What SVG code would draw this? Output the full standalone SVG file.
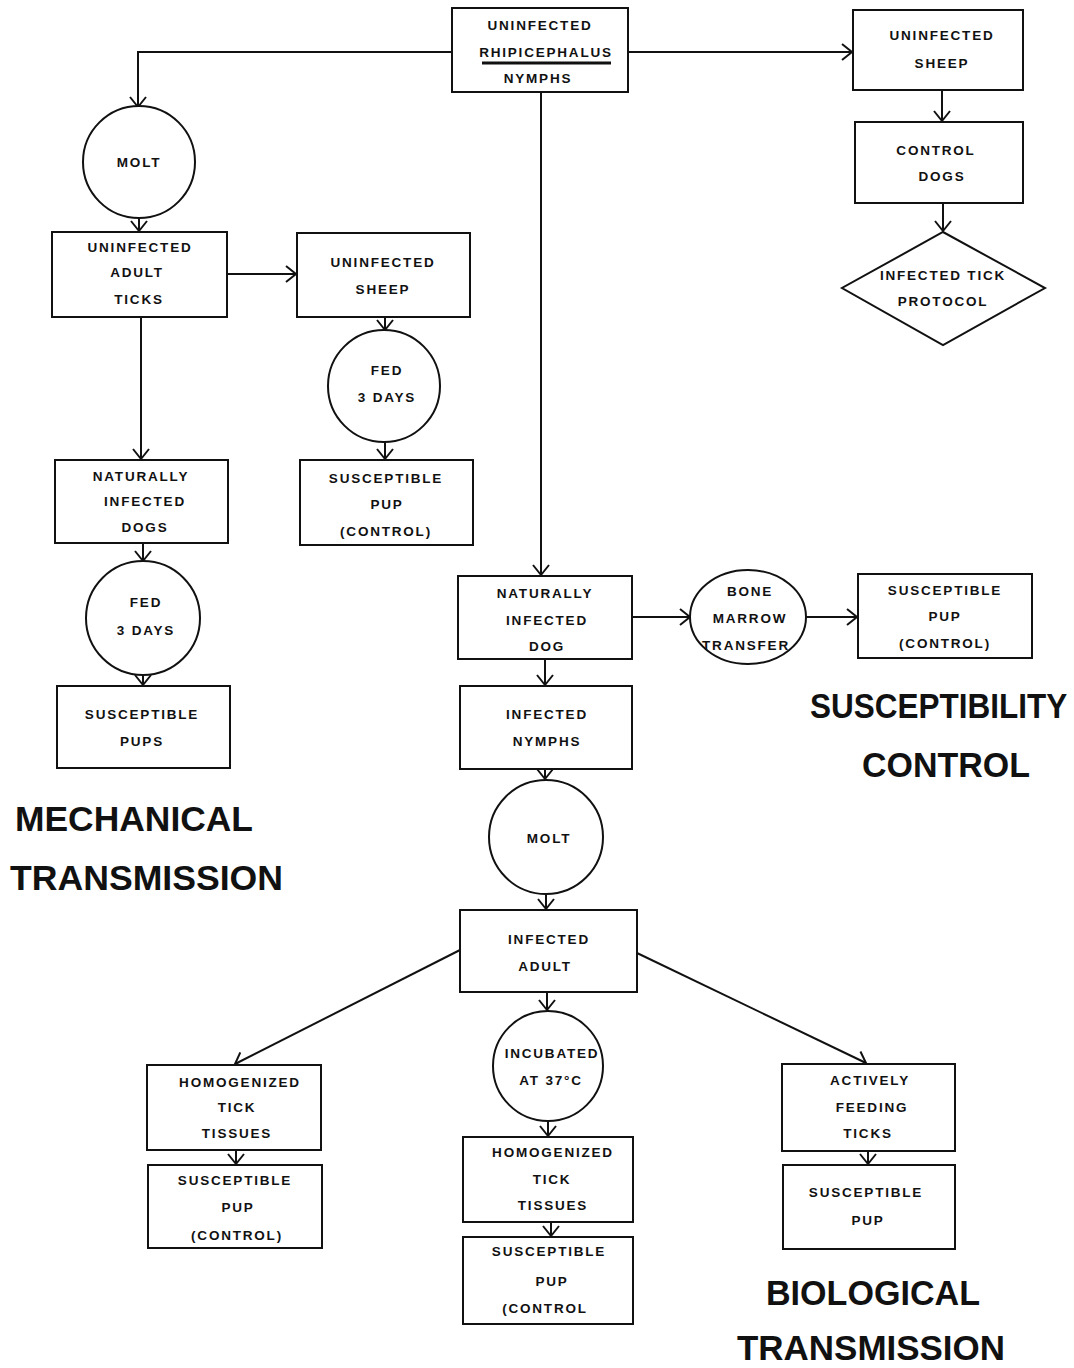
<svg xmlns="http://www.w3.org/2000/svg" width="1074" height="1368" viewBox="0 0 1074 1368">
<style>
.n rect,.n circle,.n ellipse,.n polygon{fill:#fff;stroke:#111;stroke-width:2}
.n text{font-family:"Liberation Sans",Arial,sans-serif;font-weight:bold;font-size:13.5px;letter-spacing:1.8px;text-anchor:middle;fill:#111}
.big{font-family:"Liberation Sans",Arial,sans-serif;font-weight:bold;font-size:35px;fill:#111}
#connectors path{fill:none;stroke:#111;stroke-width:2;marker-end:url(#v)}
</style>
<defs>
<marker id="v" markerUnits="userSpaceOnUse" markerWidth="14" markerHeight="18" refX="11" refY="9" orient="auto">
<path d="M1,1 L11,9 L1,17" fill="none" stroke="#111" stroke-width="2"/>
</marker>
</defs>
<rect width="1074" height="1368" fill="#fff"/>
<g id="connectors">
<path d="M452,52 H138 V107"/>
<path d="M628,52 H852"/>
<path d="M541,92 V575"/>
<path d="M942,90 V121"/>
<path d="M943,203 V231"/>
<path d="M139,218 V231"/>
<path d="M227,274 H296"/>
<path d="M385,317 V330"/>
<path d="M141,317 V459"/>
<path d="M385,442 V459"/>
<path d="M143,543 V561"/>
<path d="M143,675 V685"/>
<path d="M632,617 H690"/>
<path d="M806,617 H857"/>
<path d="M545,659 V685"/>
<path d="M545,769 V779"/>
<path d="M546,895 V909"/>
<path d="M460,950 L235,1064"/>
<path d="M547,992 V1010"/>
<path d="M637,953 L866,1063"/>
<path d="M548,1121 V1136"/>
<path d="M236,1150 V1164"/>
<path d="M551,1222 V1236"/>
<path d="M868,1151 V1164"/>
</g>
<g id="n-top" class="n"><rect x="452" y="8" width="176" height="84"/>
<text x="540" y="30">UNINFECTED</text><text x="546" y="57">RHIPICEPHALUS</text><text x="538" y="83">NYMPHS</text>
<line x1="482" y1="63" x2="611" y2="63" stroke="#111" stroke-width="3"/></g>
<g id="n-sheep-r" class="n"><rect x="853" y="10" width="170" height="80"/>
<text x="942" y="40">UNINFECTED</text><text x="942" y="68">SHEEP</text></g>
<g id="n-control-dogs" class="n"><rect x="855" y="122" width="168" height="81"/>
<text x="936" y="155">CONTROL</text><text x="942" y="181">DOGS</text></g>
<g id="n-protocol" class="n"><polygon points="943,232 1045,288 943,345 842,288"/>
<text x="943" y="280">INFECTED TICK</text><text x="943" y="306">PROTOCOL</text></g>
<g id="n-molt1" class="n"><circle cx="139" cy="162" r="56"/><text x="139" y="167">MOLT</text></g>
<g id="n-adult-ticks" class="n"><rect x="52" y="232" width="175" height="85"/>
<text x="140" y="252">UNINFECTED</text><text x="137" y="277">ADULT</text><text x="139" y="304">TICKS</text></g>
<g id="n-sheep-l" class="n"><rect x="297" y="233" width="173" height="84"/>
<text x="383" y="267">UNINFECTED</text><text x="383" y="294">SHEEP</text></g>
<g id="n-fed1" class="n"><circle cx="384" cy="386" r="56"/><text x="387" y="375">FED</text><text x="387" y="402">3  DAYS</text></g>
<g id="n-pup-ctrl1" class="n"><rect x="300" y="460" width="173" height="85"/>
<text x="386" y="483">SUSCEPTIBLE</text><text x="387" y="509">PUP</text><text x="386" y="536">(CONTROL)</text></g>
<g id="n-nat-dogs" class="n"><rect x="55" y="460" width="173" height="83"/>
<text x="141" y="481">NATURALLY</text><text x="145" y="506">INFECTED</text><text x="145" y="532">DOGS</text></g>
<g id="n-fed2" class="n"><circle cx="143" cy="618" r="57"/><text x="146" y="607">FED</text><text x="146" y="635">3  DAYS</text></g>
<g id="n-pups" class="n"><rect x="57" y="686" width="173" height="82"/>
<text x="142" y="719">SUSCEPTIBLE</text><text x="142" y="746">PUPS</text></g>
<g id="n-nat-dog" class="n"><rect x="458" y="576" width="174" height="83"/>
<text x="545" y="598">NATURALLY</text><text x="547" y="625">INFECTED</text><text x="547" y="651">DOG</text></g>
<g id="n-bone" class="n"><ellipse cx="748" cy="617" rx="58" ry="47"/>
<text x="750" y="596">BONE</text><text x="750" y="623">MARROW</text><text x="746" y="650" font-size="12.5px" letter-spacing="1px">TRANSFER</text></g>
<g id="n-pup-ctrl2" class="n"><rect x="858" y="574" width="174" height="84"/>
<text x="945" y="595">SUSCEPTIBLE</text><text x="945" y="621">PUP</text><text x="945" y="648">(CONTROL)</text></g>
<g id="n-inf-nymphs" class="n"><rect x="460" y="686" width="172" height="83"/>
<text x="547" y="719">INFECTED</text><text x="547" y="746">NYMPHS</text></g>
<g id="n-molt2" class="n"><circle cx="546" cy="837" r="57"/><text x="549" y="843">MOLT</text></g>
<g id="n-inf-adult" class="n"><rect x="460" y="910" width="177" height="82"/>
<text x="549" y="944">INFECTED</text><text x="545" y="971">ADULT</text></g>
<g id="n-homog1" class="n"><rect x="147" y="1065" width="174" height="85"/>
<text x="240" y="1087">HOMOGENIZED</text><text x="237" y="1112">TICK</text><text x="237" y="1138">TISSUES</text></g>
<g id="n-pup-ctrl3" class="n"><rect x="148" y="1165" width="174" height="83"/>
<text x="235" y="1185">SUSCEPTIBLE</text><text x="238" y="1212">PUP</text><text x="237" y="1240">(CONTROL)</text></g>
<g id="n-incub" class="n"><circle cx="548" cy="1066" r="55"/>
<text x="552" y="1058" letter-spacing="1.2px">INCUBATED</text><text x="551" y="1085">AT  37°C</text></g>
<g id="n-homog2" class="n"><rect x="463" y="1137" width="170" height="85"/>
<text x="553" y="1157">HOMOGENIZED</text><text x="552" y="1184">TICK</text><text x="553" y="1210">TISSUES</text></g>
<g id="n-pup-ctrl4" class="n"><rect x="463" y="1237" width="170" height="87"/>
<text x="549" y="1256">SUSCEPTIBLE</text><text x="552" y="1286">PUP</text><text x="545" y="1313">(CONTROL</text></g>
<g id="n-active" class="n"><rect x="782" y="1064" width="173" height="87"/>
<text x="870" y="1085">ACTIVELY</text><text x="872" y="1112">FEEDING</text><text x="868" y="1138">TICKS</text></g>
<g id="n-pup" class="n"><rect x="783" y="1165" width="172" height="84"/>
<text x="866" y="1197">SUSCEPTIBLE</text><text x="868" y="1225">PUP</text></g>
<g id="labels">
<text class="big" x="15" y="831" textLength="238" lengthAdjust="spacingAndGlyphs">MECHANICAL</text>
<text class="big" x="10" y="890" textLength="273" lengthAdjust="spacingAndGlyphs">TRANSMISSION</text>
<text class="big" transform="translate(810,718) scale(0.9,1)" x="0" y="0">SUSCEPTIBILITY</text>
<text class="big" x="862" y="777" textLength="168" lengthAdjust="spacingAndGlyphs">CONTROL</text>
<text class="big" x="766" y="1305" textLength="214" lengthAdjust="spacingAndGlyphs">BIOLOGICAL</text>
<text class="big" x="737" y="1360" textLength="268" lengthAdjust="spacingAndGlyphs">TRANSMISSION</text>
</g>
</svg>
